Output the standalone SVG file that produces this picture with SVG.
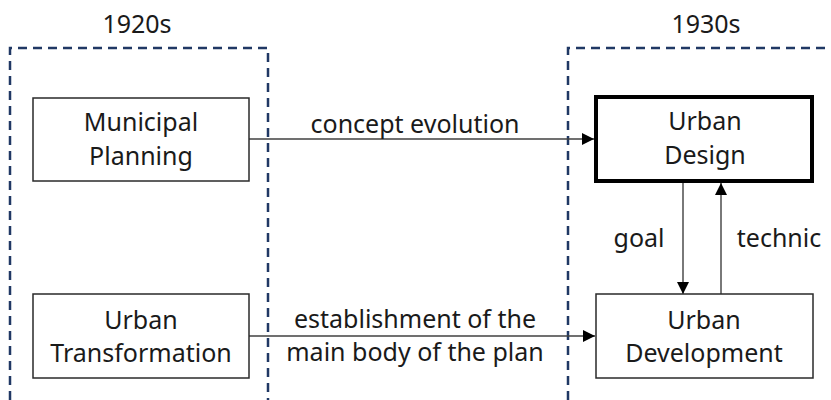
<svg xmlns="http://www.w3.org/2000/svg" width="831" height="400" viewBox="0 0 831 400">
  <style>
    text { font-family: "Noto Sans", "Liberation Sans", sans-serif; font-size: 25px; fill: #1a1a1a; text-anchor: middle; }
    .era { fill: none; stroke: #203864; stroke-width: 2.5; stroke-dasharray: 9 6; }
    .box { fill: #ffffff; stroke: #2a2a2a; stroke-width: 1.5; }
    .box-main { fill: #ffffff; stroke: #000000; stroke-width: 4; }
    .link { fill: none; stroke: #404040; stroke-width: 1.4; }
  </style>
  <defs>
    <marker id="arrow" viewBox="0 0 12 12" refX="12" refY="6" markerWidth="12" markerHeight="12" markerUnits="userSpaceOnUse" orient="auto">
      <path d="M0,0 L12,6 L0,12 Z" fill="#000000"/>
    </marker>
  </defs>

  <!-- period frames -->
  <g id="era-1920s">
    <path class="era" d="M10,400 V48 H268 V400"/>
    <text x="137" y="33">1920s</text>
  </g>
  <g id="era-1930s">
    <path class="era" d="M568,400 V48 H831"/>
    <text x="706" y="33">1930s</text>
  </g>

  <!-- connectors -->
  <g id="connectors">
    <line class="link" x1="249" y1="139" x2="594" y2="139" marker-end="url(#arrow)"/>
    <text x="415" y="133">concept evolution</text>
    <line class="link" x1="249" y1="336" x2="595" y2="336" marker-end="url(#arrow)"/>
    <text x="415" y="328">establishment of the</text>
    <text x="415" y="361">main body of the plan</text>
    <line class="link" x1="683" y1="183" x2="683" y2="294" marker-end="url(#arrow)"/>
    <text x="639" y="247">goal</text>
    <line class="link" x1="721" y1="294" x2="721" y2="183" marker-end="url(#arrow)"/>
    <text x="779" y="247">technic</text>
  </g>

  <!-- nodes -->
  <g id="municipal-planning">
    <rect class="box" x="33" y="98" width="216" height="83"/>
    <text x="141" y="131">Municipal</text>
    <text x="141" y="165">Planning</text>
  </g>
  <g id="urban-transformation">
    <rect class="box" x="33" y="294" width="216" height="84"/>
    <text x="141" y="329">Urban</text>
    <text x="141" y="362">Transformation</text>
  </g>
  <g id="urban-design">
    <rect class="box-main" x="596" y="97" width="216" height="84"/>
    <text x="705" y="130">Urban</text>
    <text x="705" y="164">Design</text>
  </g>
  <g id="urban-development">
    <rect class="box" x="596" y="294" width="217" height="84"/>
    <text x="704" y="329">Urban</text>
    <text x="704" y="362">Development</text>
  </g>
</svg>
